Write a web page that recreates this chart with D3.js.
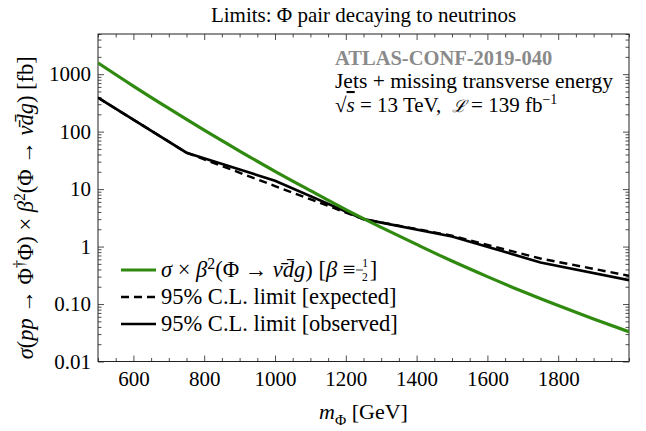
<!DOCTYPE html>
<html>
<head>
<meta charset="utf-8">
<script src="https://cdn.jsdelivr.net/npm/d3@7"></script>
<style>
  body { margin: 0; background: #fff; }
  svg, svg text { font-family: "Liberation Serif", "Times New Roman", serif; }
</style>
</head>
<body>
<div id="chart"></div>
<script>
'use strict';

// theory curve sigma x beta^2 [fb], every 100 GeV
const massGrid   = [500, 600, 700, 800, 900, 1000, 1100, 1200, 1300, 1400, 1500, 1600, 1700, 1800, 1900, 2000];
const theoryXsec = [1570, 620, 253, 106, 46, 20.4, 9.4, 4.4, 2.16, 1.09, 0.56, 0.30, 0.165, 0.094, 0.055, 0.033];

// 95% CL limits [fb]
const limitMass     = [500, 750, 1000, 1250, 1500, 1750, 2000];
const expectedLimit = [390, 43, 11.3, 3.0, 1.55, 0.62, 0.31];
const observedLimit = [390, 43, 14, 3.0, 1.5, 0.53, 0.26];

const xTickValues = [600, 800, 1000, 1200, 1400, 1600, 1800];
const yTickValues = [1000, 100, 10, 1, 0.1, 0.01];
const yTickLabels = ['1000', '100', '10', '1', '0.10', '0.01'];

const width = 646, height = 431;
const margin = {top: 34, right: 17, bottom: 69.5, left: 98};
const serif = '"Liberation Serif", "Times New Roman", serif';
const tickFont = 21;
const green = '#2f8a0f';

const svg = d3.select('#chart').append('svg')
  .attr('width', width)
  .attr('height', height)
  .style('font-family', serif);

const x = d3.scaleLinear().domain([500, 2000]).range([margin.left, width - margin.right]);
const y = d3.scaleLog().domain([0.01, 5000]).range([height - margin.bottom, margin.top]);

const x0 = x.range()[0], x1 = x.range()[1];
const yb = y.range()[0], yt = y.range()[1];

// minor ticks
const xMinor = d3.range(500, 2001, 50).filter(v => !xTickValues.includes(v));
const yMinor = [];
yTickValues.forEach(d => {
  for (let k = 2; k <= 9; k++) if (k * d <= 5000) yMinor.push(k * d);
});

const majorLen = 6, minorLen = 3.5;

// ticks on all four sides, pointing inwards
const axBottom = svg.append('g').attr('transform', `translate(0,${yb})`)
  .call(d3.axisBottom(x).tickValues(xTickValues).tickSize(-majorLen).tickPadding(10).tickFormat(d3.format('d')));
const axBottomMinor = svg.append('g').attr('transform', `translate(0,${yb})`)
  .call(d3.axisBottom(x).tickValues(xMinor).tickSize(-minorLen).tickFormat(''));
const axTop = svg.append('g').attr('transform', `translate(0,${yt})`)
  .call(d3.axisTop(x).tickValues(xTickValues).tickSize(-majorLen).tickFormat(''));
const axTopMinor = svg.append('g').attr('transform', `translate(0,${yt})`)
  .call(d3.axisTop(x).tickValues(xMinor).tickSize(-minorLen).tickFormat(''));

const axLeft = svg.append('g').attr('transform', `translate(${x0},0)`)
  .call(d3.axisLeft(y).tickValues(yTickValues).tickSize(-majorLen).tickPadding(7)
    .tickFormat((d, i) => yTickLabels[i]));
const axLeftMinor = svg.append('g').attr('transform', `translate(${x0},0)`)
  .call(d3.axisLeft(y).tickValues(yMinor).tickSize(-minorLen).tickFormat(''));
const axRight = svg.append('g').attr('transform', `translate(${x1},0)`)
  .call(d3.axisRight(y).tickValues(yTickValues).tickSize(-majorLen).tickFormat(''));
const axRightMinor = svg.append('g').attr('transform', `translate(${x1},0)`)
  .call(d3.axisRight(y).tickValues(yMinor).tickSize(-minorLen).tickFormat(''));

[axBottom, axBottomMinor, axTop, axTopMinor, axLeft, axLeftMinor, axRight, axRightMinor].forEach(g => {
  g.attr('font-family', null).attr('font-size', null);
  g.select('.domain').remove();
  g.selectAll('line').attr('stroke', '#222').attr('stroke-width', 0.8);
  g.selectAll('text').style('font-size', tickFont + 'px').style('font-family', serif).attr('fill', '#000');
});

// frame
svg.append('rect')
  .attr('x', x0).attr('y', yt)
  .attr('width', x1 - x0).attr('height', yb - yt)
  .attr('fill', 'none').attr('stroke', '#222').attr('stroke-width', 1);

// curves
svg.append('clipPath').attr('id', 'clip')
  .append('rect').attr('x', x0).attr('y', yt).attr('width', x1 - x0).attr('height', yb - yt);

const plot = svg.append('g').attr('clip-path', 'url(#clip)');

const smooth = d3.line().x(d => x(d[0])).y(d => y(d[1])).curve(d3.curveMonotoneX);
const straight = d3.line().x(d => x(d[0])).y(d => y(d[1]));

plot.append('path')
  .datum(limitMass.map((m, i) => [m, expectedLimit[i]]))
  .attr('d', straight)
  .attr('fill', 'none').attr('stroke', '#000').attr('stroke-width', 2.4)
  .attr('stroke-dasharray', '8,5');

plot.append('path')
  .datum(limitMass.map((m, i) => [m, observedLimit[i]]))
  .attr('d', straight)
  .attr('fill', 'none').attr('stroke', '#000').attr('stroke-width', 2.6);

plot.append('path')
  .datum(massGrid.map((m, i) => [m, theoryXsec[i]]))
  .attr('d', smooth)
  .attr('fill', 'none').attr('stroke', green).attr('stroke-width', 3.2);

// rich text helper: segments {t, i (italic), sup, sub, over, dx, size, raise}
function rich(textSel, segs, size) {
  let shift = 0;
  segs.forEach(s => {
    let target = 0;
    if (s.sup) target = -size * 0.36;
    if (s.sub) target = size * 0.25;
    if (s.raise !== undefined) target = s.raise;
    const fs = s.size || (s.sup || s.sub ? size * 0.7 : size);
    const ts = textSel.append('tspan').text(s.t)
      .attr('dy', target - shift)
      .style('font-size', fs + 'px');
    if (s.dx) ts.attr('dx', s.dx);
    if (s.i) ts.style('font-style', 'italic');
    if (s.over) ts.style('text-decoration', 'overline');
    shift = target;
  });
  return textSel;
}

// title
svg.append('text')
  .attr('x', (x0 + x1) / 2).attr('y', 22)
  .attr('text-anchor', 'middle')
  .style('font-size', '21px')
  .text('Limits: Φ pair decaying to neutrinos');

// x label
rich(svg.append('text').attr('x', (x0 + x1) / 2).attr('y', 419).attr('text-anchor', 'middle'),
  [{t: 'm', i: true}, {t: 'Φ', sub: true}, {t: ' [GeV]'}], 22);

// y label
rich(svg.append('text')
  .attr('transform', `translate(33,${(yt + yb) / 2 + 10}) rotate(-90)`)
  .attr('text-anchor', 'middle'),
  [{t: 'σ', i: true}, {t: '('}, {t: 'pp', i: true}, {t: ' → Φ'}, {t: '†', sup: true},
   {t: 'Φ) × '}, {t: 'β', i: true}, {t: '2', sup: true}, {t: '(Φ → '},
   {t: 'ν\u0304d\u0304g', i: true}, {t: ') [fb]'}], 22.5);

// annotation
const annX = 335;
svg.append('text').attr('x', annX).attr('y', 65)
  .style('font-size', '20.5px').style('font-weight', 'bold').style('fill', '#8a8a8a')
  .text('ATLAS-CONF-2019-040');
svg.append('text').attr('x', annX).attr('y', 88)
  .style('font-size', '21.5px')
  .text('Jets + missing transverse energy');
rich(svg.append('text').attr('x', annX).attr('y', 112),
  [{t: '√'}, {t: 's', i: true, over: true}, {t: ' = 13 TeV,\u00a0\u00a0'}, {t: 'ℒ', i: true, size: 17},
   {t: ' = 139 fb'}, {t: '−1', sup: true, size: 14}], 21);

// legend
const legendFont = 22.5;
const legendX = 121, legendLen = 35, legendRows = [270, 297, 324];
const legendItems = [
  {stroke: green, width: 3.2, dash: null},
  {stroke: '#000', width: 2.4, dash: '8,5'},
  {stroke: '#000', width: 2.6, dash: null}
];
legendItems.forEach((it, i) => {
  svg.append('line')
    .attr('x1', legendX).attr('x2', legendX + legendLen)
    .attr('y1', legendRows[i]).attr('y2', legendRows[i])
    .attr('stroke', it.stroke).attr('stroke-width', it.width)
    .attr('stroke-dasharray', it.dash);
});
const tx = legendX + legendLen + 5;
const l1 = rich(svg.append('text').attr('x', tx).attr('y', legendRows[0] + 7),
  [{t: 'σ', i: true}, {t: ' × '}, {t: 'β', i: true}, {t: '2', sup: true},
   {t: '(Φ → '}, {t: 'ν\u0304d\u0304g', i: true}, {t: ')  ['}, {t: 'β', i: true}, {t: ' ≡ '}], legendFont);
const l1w = l1.node().getComputedTextLength();
// stacked 1/2 inside the same text element
rich(l1, [{t: '1', size: 11.5, raise: -10.5, dx: 1}, {t: '2', size: 11.5, raise: 4, dx: -5.8}, {t: ']', raise: 0, dx: 2}], legendFont);
svg.append('line')
  .attr('x1', tx + l1w + 0.5).attr('x2', tx + l1w + 7.5)
  .attr('y1', legendRows[0]).attr('y2', legendRows[0])
  .attr('stroke', '#000').attr('stroke-width', 0.8);

svg.append('text').attr('x', tx).attr('y', legendRows[1] + 7)
  .style('font-size', legendFont + 'px').text('95% C.L. limit [expected]');
svg.append('text').attr('x', tx).attr('y', legendRows[2] + 7)
  .style('font-size', legendFont + 'px').text('95% C.L. limit [observed]');
</script>
</body>
</html>
